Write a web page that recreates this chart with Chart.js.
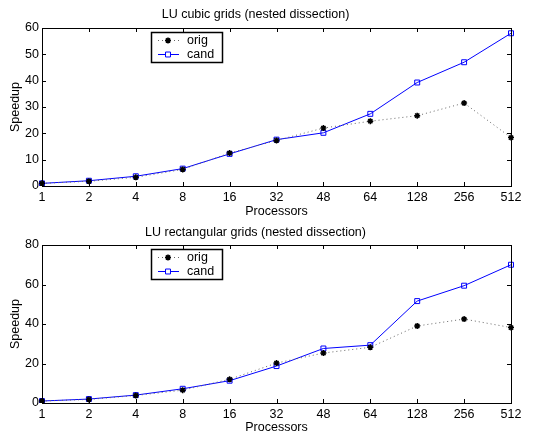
<!DOCTYPE html>
<html>
<head>
<meta charset="utf-8">
<script src="https://cdn.jsdelivr.net/npm/chart.js@4"></script>
<style>
  html,body{margin:0;padding:0;background:#fff;}
  #wrap{position:relative;width:534px;height:439px;}
  .box{position:absolute;left:0;width:534px;}
</style>
</head>
<body>
<div id="wrap">
  <div class="box" style="top:0;height:219px"><canvas id="cubic"></canvas></div>
  <div class="box" style="top:219px;height:220px"><canvas id="rect"></canvas></div>
</div>
<script>
// processors on the x axis (categorical, evenly spaced)
const processors = ['1','2','4','8','16','32','48','64','128','256','512'];

// LU cubic grids
const cubicOrig = [1.0, 1.8, 3.3, 6.3, 12.5, 17.3, 22.0, 24.6, 26.7, 31.5, 18.4];
const cubicCand = [1.0, 2.0, 3.7, 6.6, 12.2, 17.6, 20.2, 27.4, 39.3, 47.0, 58.0];

// LU rectangular grids
const rectOrig = [1.0, 1.8, 3.8, 6.5, 12.0, 20.2, 25.3, 28.2, 39.0, 42.5, 38.2];
const rectCand = [1.0, 2.0, 4.0, 7.2, 11.3, 18.7, 27.6, 29.3, 51.6, 59.4, 70.0];

const FONT = 'Liberation Sans, Arial, Helvetica, sans-serif';
const FS = 12.5;

// matlab style box with inward ticks + legend in the upper left
const boxPlugin = {
  id:'matlabBox',
  afterDraw(chart){
    const {ctx, chartArea:a, scales} = chart;
    ctx.save();
    ctx.strokeStyle = '#000';
    ctx.lineWidth = 1;
    ctx.strokeRect(Math.round(a.left)+0.5, Math.round(a.top)+0.5, Math.round(a.right-a.left), Math.round(a.bottom-a.top));
    const tl = 4;
    ctx.beginPath();
    scales.x.ticks.forEach((t,i)=>{
      const x = Math.round(scales.x.getPixelForTick(i))+0.5;
      ctx.moveTo(x, a.bottom); ctx.lineTo(x, a.bottom-tl);
      ctx.moveTo(x, a.top); ctx.lineTo(x, a.top+tl);
    });
    scales.y.ticks.forEach((t,i)=>{
      const y = Math.round(scales.y.getPixelForTick(i))+0.5;
      ctx.moveTo(a.left, y); ctx.lineTo(a.left+tl, y);
      ctx.moveTo(a.right, y); ctx.lineTo(a.right-tl, y);
    });
    ctx.stroke();

    // legend
    const lx = a.left + 109, ly = a.top + 4, lw = 71, lh = 30;
    ctx.fillStyle = '#fff';
    ctx.fillRect(lx, ly, lw, lh);
    ctx.lineWidth = 1.5;
    ctx.strokeRect(lx+0.5, ly+0.5, lw, lh);
    ctx.font = FS + 'px ' + FONT;
    ctx.textBaseline = 'middle';
    chart.data.datasets.forEach((ds,i)=>{
      const cy = ly + 8 + i*14;
      ctx.save();
      ctx.strokeStyle = ds.borderColor;
      ctx.lineWidth = 1;
      ctx.setLineDash(ds.borderDash || []);
      ctx.beginPath();
      ctx.moveTo(lx+7, cy+0.5); ctx.lineTo(lx+28, cy+0.5);
      ctx.stroke();
      ctx.setLineDash([]);
      ctx.strokeStyle = ds.pointBorderColor;
      ctx.fillStyle = ds.pointStyle === 'rect' ? '#fff' : ds.pointBorderColor;
      ctx.lineWidth = ds.pointBorderWidth;
      Chart.helpers.drawPoint(ctx, {pointStyle:ds.pointStyle, radius:ds.pointRadius, borderWidth:ds.pointBorderWidth, rotation:0}, lx+17, cy+0.5);
      ctx.restore();
      ctx.fillStyle = '#000';
      ctx.fillText(ds.label, lx+36, cy+1);
    });
    ctx.restore();
  }
};

function makeChart(id, title, orig, cand, ymax, step, padTop, padBottom, xAxisH, xTitleBottom){
  const ctx = document.getElementById(id).getContext('2d');
  return new Chart(ctx, {
    type:'line',
    data:{
      labels:processors,
      datasets:[
        {label:'orig', data:orig, borderColor:'#666', borderWidth:1, borderDash:[1,3],
         pointStyle:'star', pointRadius:3, pointBorderWidth:1.5, pointBorderColor:'#000', pointBackgroundColor:'#000', tension:0},
        {label:'cand', data:cand, borderColor:'#0000ff', borderWidth:1,
         pointStyle:'rect', pointRadius:3.5, pointBorderWidth:1, pointBorderColor:'#0000ff', pointBackgroundColor:'rgba(0,0,0,0)', tension:0}
      ]
    },
    options:{
      responsive:true, maintainAspectRatio:false, animation:false,
      layout:{padding:{top:0, right:23, left:0, bottom:0}},
      plugins:{
        legend:{display:false}, tooltip:{enabled:false},
        title:{display:true, text:title, color:'#000', font:{family:FONT, size:FS, weight:'normal'}, padding:{top:padTop, bottom:padBottom}}
      },
      scales:{
        x:{
          offset:false,
          grid:{display:false, drawTicks:false},
          border:{display:false},
          ticks:{color:'#000', font:{family:FONT, size:FS}, padding:4, maxRotation:0, autoSkip:false},
          title:{display:true, text:'Processors', color:'#000', font:{family:FONT, size:FS}, padding:{top:0,bottom:xTitleBottom}},
          afterFit(s){ s.height = xAxisH; }
        },
        y:{
          min:0, max:ymax,
          grid:{display:false, drawTicks:false},
          border:{display:false},
          ticks:{stepSize:step, color:'#000', font:{family:FONT, size:FS}, padding:3},
          title:{display:true, text:'Speedup', color:'#000', font:{family:FONT, size:FS}, padding:{top:8,bottom:0}},
          afterFit(s){ s.width = 42; }
        }
      }
    },
    plugins:[boxPlugin]
  });
}

makeChart('cubic', 'LU cubic grids (nested dissection)', cubicOrig, cubicCand, 60, 10, 7.5, 5.5, 33, 0);
makeChart('rect', 'LU rectangular grids (nested dissection)', rectOrig, rectCand, 80, 20, 6, 5, 36, 4);
</script>
</body>
</html>
